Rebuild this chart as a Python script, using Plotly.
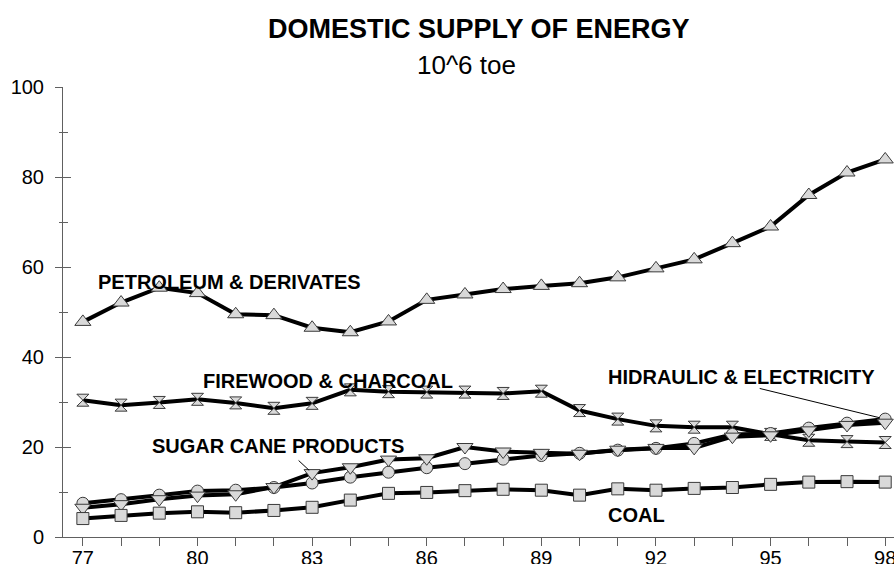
import plotly.graph_objects as go

years = list(range(77, 99))
tick_labels = [str(y) if (y - 77) % 3 == 0 else "" for y in years]

petroleum = [47.8, 52.1, 55.4, 54.2, 49.5, 49.3, 46.5, 45.5, 47.9, 52.7, 53.9, 55.1, 55.8,
             56.4, 57.7, 59.7, 61.7, 65.3, 69.0, 76.0, 81.0, 83.9]
firewood = [30.4, 29.3, 29.9, 30.6, 29.8, 28.6, 29.7, 32.7, 32.3, 32.2, 32.2, 31.9, 32.4,
            28.1, 26.2, 24.7, 24.4, 24.4, 22.8, 21.5, 21.2, 21.0]
hydraulic = [7.5, 8.3, 9.3, 10.2, 10.4, 11.0, 12.0, 13.3, 14.4, 15.4, 16.3, 17.3, 18.1,
             18.6, 19.3, 19.7, 20.8, 22.8, 23.0, 24.2, 25.3, 26.2]
sugar_cane = [6.5, 7.3, 8.4, 9.2, 9.5, 11.1, 14.2, 15.5, 17.2, 17.5, 20.0, 19.0, 18.7,
              18.5, 19.4, 19.8, 19.8, 22.3, 22.6, 23.7, 24.9, 25.4]
coal = [4.1, 4.8, 5.3, 5.6, 5.4, 5.9, 6.6, 8.2, 9.7, 9.9, 10.3, 10.6, 10.4,
        9.3, 10.7, 10.4, 10.8, 11.0, 11.7, 12.2, 12.3, 12.2]

series = [
    ("PETROLEUM & DERIVATES", petroleum, "triangle-up", 14),
    ("FIREWOOD & CHARCOAL", firewood, "hourglass", 12),
    ("HIDRAULIC & ELECTRICITY", hydraulic, "circle", 12),
    ("SUGAR CANE PRODUCTS", sugar_cane, "triangle-down", 14),
    ("COAL", coal, "square", 12),
]

FONT = "Liberation Sans, Arial, sans-serif"
fig = go.Figure()
for name, vals, sym, sz in series:
    fig.add_trace(go.Scatter(
        x=years, y=vals, mode="lines+markers", name=name,
        line=dict(color="black", width=4),
        marker=dict(symbol=sym, size=sz, color="#d9d9d9",
                    line=dict(color="#3a3a3a", width=1)),
        showlegend=False, cliponaxis=True,
    ))

label_font = dict(family=FONT, size=20, color="black")
labels = [
    ("<b>PETROLEUM & DERIVATES</b>", 77.35, 56.7),
    ("<b>FIREWOOD & CHARCOAL</b>", 80.10, 34.7),
    ("<b>SUGAR CANE PRODUCTS</b>", 78.76, 20.2),
    ("<b>HIDRAULIC & ELECTRICITY</b>", 90.70, 35.6),
    ("<b>COAL</b>", 90.70, 4.9),
]
for txt, x, y in labels:
    fig.add_annotation(x=x, y=y, text=txt, showarrow=False, xanchor="left",
                       yanchor="middle", font=label_font)

# leader lines
fig.add_annotation(x=83, y=sugar_cane[83 - 77], text="", showarrow=True, arrowhead=0,
                   arrowwidth=1, arrowcolor="black", ax=-15, ay=-14, standoff=4)
fig.add_annotation(x=98, y=hydraulic[98 - 77], text="", showarrow=True, arrowhead=0,
                   arrowwidth=1, arrowcolor="black", ax=-127, ay=-31, standoff=6)

fig.add_annotation(xref="paper", yref="paper", x=(479 - 63) / 831, y=(537 - 28.5) / 450,
                   yanchor="middle", text="<b>DOMESTIC SUPPLY OF ENERGY</b>", showarrow=False,
                   font=dict(family=FONT, size=27, color="black"))
fig.add_annotation(xref="paper", yref="paper", x=(466 - 63) / 831, y=(537 - 65) / 450,
                   yanchor="middle", text="10^6 toe", showarrow=False,
                   font=dict(family=FONT, size=26, color="black"))

axis_gray = "#606060"
fig.update_layout(
    width=894, height=564,
    margin=dict(l=63, r=0, t=87, b=27, autoexpand=False),
    paper_bgcolor="white", plot_bgcolor="white",
    xaxis=dict(range=[76.48, 98.23], tickvals=years, ticktext=tick_labels,
               ticks="outside", ticklen=8, tickcolor=axis_gray, tickwidth=1,
               showline=True, linecolor=axis_gray, linewidth=1, showgrid=False,
               zeroline=False, automargin=False, ticklabeloverflow="allow",
               ticklabelstandoff=-5,
               tickfont=dict(family=FONT, size=20, color="black")),
    yaxis=dict(range=[0, 100], tickvals=[0, 20, 40, 60, 80, 100],
               ticks="outside", ticklen=7, tickcolor=axis_gray, tickwidth=1,
               minor=dict(tickvals=[10, 30, 50, 70, 90], ticks="outside", ticklen=3,
                          tickcolor=axis_gray),
               showline=True, linecolor=axis_gray, linewidth=1, showgrid=False,
               zeroline=False, automargin=False, ticklabelstandoff=7,
               tickfont=dict(family=FONT, size=20, color="black")),
    yaxis2=dict(range=[0, 100], overlaying="y", side="left", tickvals=[0, 20, 40, 60, 80, 100],
                ticks="inside", ticklen=8, tickcolor=axis_gray, showticklabels=False,
                minor=dict(tickvals=[10, 30, 50, 70, 90], ticks="inside", ticklen=5,
                           tickcolor=axis_gray),
                showline=False, showgrid=False, zeroline=False, automargin=False),
)
fig.add_trace(go.Scatter(x=[None], y=[None], yaxis="y2", showlegend=False, hoverinfo="skip"))

fig.write_html("out.html", config={"displayModeBar": False},
               post_script="document.body.style.margin='0';document.body.style.overflow='hidden';")
